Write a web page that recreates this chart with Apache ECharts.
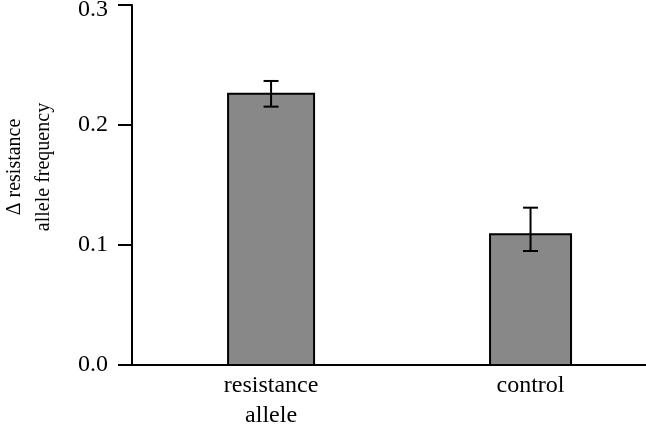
<!DOCTYPE html>
<html>
<head>
<meta charset="utf-8">
<script src="https://cdn.jsdelivr.net/npm/echarts@6/dist/echarts.min.js"></script>
<style>html,body{margin:0;padding:0;background:#fff}#c{width:646px;height:424px}</style>
</head>
<body>
<div id="c"></div>
<script>
const categories = ['resistance\nallele', 'control'];
const values = [0.226, 0.109];
const errUpper = [0.2367, 0.1311];
const errLower = [0.2153, 0.0950];
const yTicks = [0.0, 0.1, 0.2, 0.3];

const FONT = 'Liberation Serif';
const chart = echarts.init(document.getElementById('c'), null, {renderer: 'canvas'});

const yMax = yTicks[yTicks.length - 1];
const BAR_PX = [86, 81];

const option = {
  animation: false,
  grid: {left: 132, right: 0, top: 5, bottom: 59, containLabel: false, outerBoundsMode: 'none'},
  xAxis: {
    type: 'value',
    min: -0.536, max: 1.445,
    axisLine: {show: true, onZero: false, lineStyle: {color: '#000', width: 2}},
    axisTick: {show: false},
    splitLine: {show: false},
    axisLabel: {
      customValues: categories.map((c, i) => i),
      formatter: v => categories[Math.round(v)] || '',
      color: '#000', fontFamily: FONT, fontSize: 24, lineHeight: 30, margin: 6
    }
  },
  yAxis: {
    type: 'value', min: yTicks[0], max: yMax, interval: 0.1,
    name: 'Δ resistance\nallele frequency',
    nameLocation: 'middle', nameGap: 74, nameRotate: 90,
    nameTextStyle: {color: '#000', fontFamily: FONT, fontSize: 20, lineHeight: 29, padding: [0, 0, 0, 36]},
    axisLine: {show: true, onZero: false, lineStyle: {color: '#000', width: 2}},
    axisTick: {show: true, inside: false, length: 14, lineStyle: {color: '#000', width: 2}},
    splitLine: {show: false},
    axisLabel: {
      color: '#000', fontFamily: FONT, fontSize: 24, margin: 24,
      formatter: v => Math.abs(v - yMax) < 1e-9 ? '{t|' + v.toFixed(1) + '}' : v.toFixed(1),
      rich: {t: {color: '#000', fontFamily: FONT, fontSize: 24, padding: [10, 0, 0, 0]}}
    }
  },
  series: [
    {
      type: 'custom', z: 5,
      data: values.map((v, i) => [i, v]),
      renderItem: function (params, api) {
        const x = api.value(0);
        const top = api.coord([x, api.value(1)]);
        const base = api.coord([x, 0]);
        const w = BAR_PX[params.dataIndex];
        return {
          type: 'rect',
          shape: {x: top[0] - w / 2, y: top[1], width: w, height: base[1] - top[1]},
          style: {fill: '#888888', stroke: '#000', lineWidth: 2}
        };
      }
    },
    {
      type: 'custom', z: 10,
      data: values.map((v, i) => [i, errLower[i], errUpper[i]]),
      renderItem: function (params, api) {
        const x = api.value(0);
        const lo = api.coord([x, api.value(1)]);
        const hi = api.coord([x, api.value(2)]);
        const cap = 7.5;
        const st = {stroke: '#000', lineWidth: 2};
        return {
          type: 'group',
          children: [
            {type: 'line', shape: {x1: hi[0], y1: hi[1], x2: lo[0], y2: lo[1]}, style: st},
            {type: 'line', shape: {x1: hi[0] - cap, y1: hi[1], x2: hi[0] + cap, y2: hi[1]}, style: st},
            {type: 'line', shape: {x1: lo[0] - cap, y1: lo[1], x2: lo[0] + cap, y2: lo[1]}, style: st}
          ]
        };
      }
    }
  ]
};
chart.setOption(option);
</script>
</body>
</html>
